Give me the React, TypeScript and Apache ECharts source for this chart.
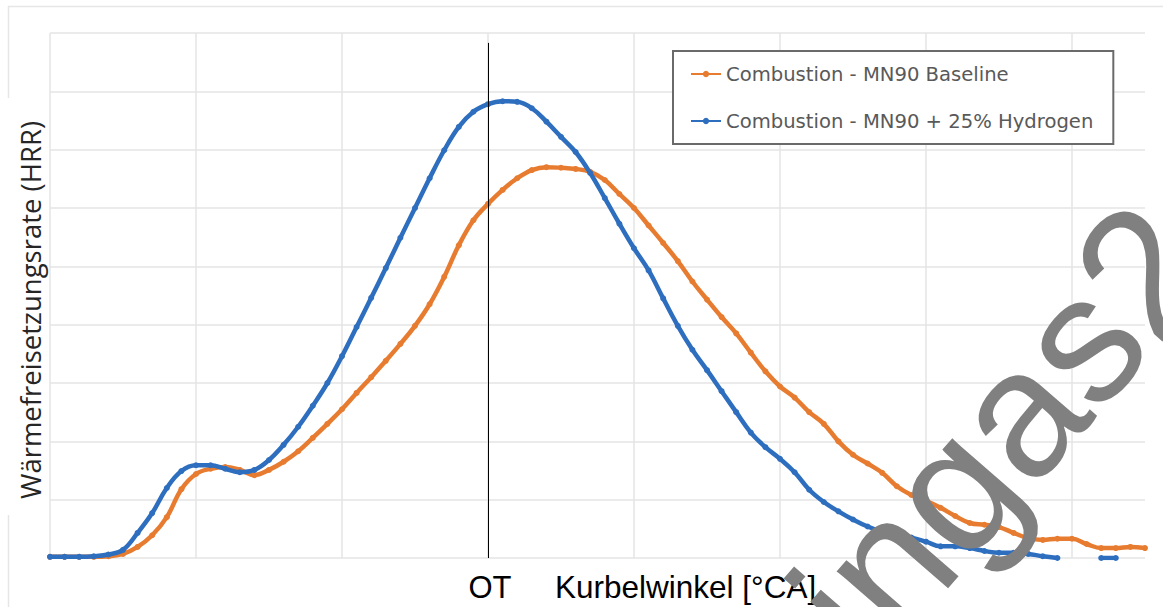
import React, { useEffect, useRef } from "react";
import * as echarts from "echarts";

const crankAngles = [
  -30, -29, -28, -27, -26, -25, -24, -23, -22, -21, -20, -19, -18, -17, -16, -15,
  -14, -13, -12, -11, -10, -9, -8, -7, -6, -5, -4, -3, -2, -1, 0, 1, 2, 3, 4, 5,
  6, 7, 8, 9, 10, 11, 12, 13, 14, 15, 16, 17, 18, 19, 20, 21, 22, 23, 24, 25, 26,
  27, 28, 29, 30, 31, 32, 33, 34, 35, 36, 37, 38, 39, 40, 41, 42, 43, 44, 45,
];

const baselineHRR = [
  0.02, 0.02, 0.02, 0.02, 0.03, 0.07, 0.19, 0.39, 0.7, 1.18, 1.44, 1.53, 1.56, 1.51, 1.42, 1.51,
  1.65, 1.83, 2.06, 2.3, 2.55, 2.83, 3.1, 3.38, 3.67, 3.98, 4.35, 4.82, 5.36, 5.79, 6.07, 6.31,
  6.51, 6.65, 6.7, 6.69, 6.67, 6.62, 6.48, 6.24, 6.0, 5.7, 5.4, 5.09, 4.74, 4.43, 4.13, 3.85,
  3.52, 3.2, 2.94, 2.75, 2.5, 2.3, 2.0, 1.77, 1.62, 1.46, 1.23, 1.08, 0.98, 0.86, 0.72, 0.6,
  0.57, 0.53, 0.43, 0.34, 0.31, 0.33, 0.33, 0.24, 0.17, 0.17, 0.19, 0.17,
];

const hydrogenHRR: (number | null)[] = [
  0.02, 0.02, 0.02, 0.03, 0.06, 0.14, 0.43, 0.77, 1.2, 1.49, 1.59, 1.59, 1.53, 1.47, 1.51, 1.68,
  1.94, 2.25, 2.61, 3.0, 3.46, 3.96, 4.46, 4.97, 5.49, 6.0, 6.51, 6.99, 7.39, 7.65, 7.78, 7.83,
  7.82, 7.71, 7.48, 7.22, 6.96, 6.6, 6.17, 5.73, 5.31, 4.93, 4.45, 3.98, 3.57, 3.22, 2.86, 2.5,
  2.15, 1.9, 1.7, 1.47, 1.17, 0.96, 0.8, 0.66, 0.54, 0.45, 0.39, 0.35, 0.28, 0.2, 0.2, 0.17,
  0.12, 0.09, 0.09, 0.07, 0.03, 0.0, null, null, 0.0, 0.0, null, null,
];

const seriesNames = ["Combustion - MN90 Baseline", "Combustion - MN90 + 25% Hydrogen"];
const seriesColors = ["#E77C30", "#2E6EBF"];
const otAngle = 0;
const otTop = 8.83;
const yAxisTitle = "Wärmefreisetzungsrate (HRR)";
const xMarkLabel = "OT";
const xAxisTitle = "Kurbelwinkel [°CA]";
const watermark = "ingas2";

export default function App() {
  const ref = useRef<HTMLDivElement>(null);
  useEffect(() => {
    document.body.style.margin = "0";
    if (!ref.current) return;
    const chart = echarts.init(ref.current, null, { renderer: "svg" });
    const pair = (vals: (number | null)[]) => crankAngles.map((a, i) => [a, vals[i]]);
    chart.setOption({
      animation: false,
      backgroundColor: "#ffffff",
      grid: { left: 50, right: 18, top: 33, bottom: 49 },
      xAxis: {
        type: "value",
        min: -30,
        max: 45,
        interval: 10,
        axisLine: { show: false },
        axisTick: { show: false },
        axisLabel: { show: false },
        splitLine: {
          show: true,
          showMinLine: true,
          showMaxLine: false,
          lineStyle: { color: "#e4e4e4", width: 1.5 },
        },
      },
      yAxis: {
        type: "value",
        min: 0,
        max: 9,
        interval: 1,
        axisLine: { show: false },
        axisTick: { show: false },
        axisLabel: { show: false },
        splitLine: { show: true, lineStyle: { color: "#e4e4e4", width: 1.5 } },
      },
      legend: {
        orient: "vertical",
        left: 673,
        top: 51,
        padding: [13, 20, 13, 17],
        itemGap: 27,
        itemWidth: 30,
        itemHeight: 8,
        borderColor: "#6a6a6a",
        borderWidth: 2,
        backgroundColor: "#ffffff",
        textStyle: { fontSize: 19.6, color: "#595959", fontFamily: "DejaVu Sans, sans-serif" },
        data: seriesNames,
      },
      series: [
        {
          name: seriesNames[0],
          type: "line",
          data: pair(baselineHRR),
          smooth: 0.4,
          symbol: "circle",
          symbolSize: 6,
          showSymbol: true,
          connectNulls: false,
          itemStyle: { color: seriesColors[0] },
          lineStyle: { color: seriesColors[0], width: 4.5 },
          z: 3,
        },
        {
          name: seriesNames[1],
          type: "line",
          data: pair(hydrogenHRR),
          smooth: 0.4,
          symbol: "circle",
          symbolSize: 6,
          showSymbol: true,
          connectNulls: false,
          itemStyle: { color: seriesColors[1] },
          lineStyle: { color: seriesColors[1], width: 4.5 },
          z: 4,
          markLine: {
            silent: true,
            symbol: "none",
            label: { show: false },
            lineStyle: { color: "#000000", width: 1, type: "solid" },
            data: [[{ coord: [otAngle, otTop] }, { coord: [otAngle, 0] }]],
          },
        },
      ],
      graphic: [
        {
          type: "rect",
          z: -10,
          shape: { x: 8.5, y: 6.5, width: 1200, height: 700 },
          style: { fill: "none", stroke: "#e6e6e6", lineWidth: 1.5 },
        },
        {
          type: "rect",
          z: -5,
          shape: { x: 0, y: 98, width: 47, height: 417 },
          style: { fill: "#ffffff" },
        },
        {
          type: "text",
          z: 50,
          x: 30,
          y: 310,
          rotation: Math.PI / 2,
          style: {
            text: yAxisTitle,
            fontSize: 27.5,
            fontFamily: "Open Sans, sans-serif",
            fill: "#262626",
            align: "center",
            verticalAlign: "middle",
          },
        },
        {
          type: "text",
          z: 50,
          x: 490,
          y: 587,
          style: {
            text: xMarkLabel,
            fontSize: 31,
            fontFamily: "Liberation Sans, Arial, sans-serif",
            fill: "#000000",
            align: "center",
            verticalAlign: "middle",
          },
        },
        {
          type: "text",
          z: 50,
          x: 555,
          y: 587,
          style: {
            text: xAxisTitle,
            fontSize: 31.5,
            fontFamily: "Liberation Sans, Arial, sans-serif",
            fill: "#000000",
            align: "left",
            verticalAlign: "middle",
          },
        },
        {
          type: "text",
          z: 100,
          x: 1001,
          y: 432,
          rotation: (49 * Math.PI) / 180,
          style: {
            text: watermark,
            fontSize: 180,
            fontFamily: "Liberation Sans, Arial, sans-serif",
            fill: "#808080",
            align: "center",
            verticalAlign: "middle",
          },
        },
      ],
    });
    return () => chart.dispose();
  }, []);
  return <div ref={ref} style={{ width: 1163, height: 607 }} />;
}
